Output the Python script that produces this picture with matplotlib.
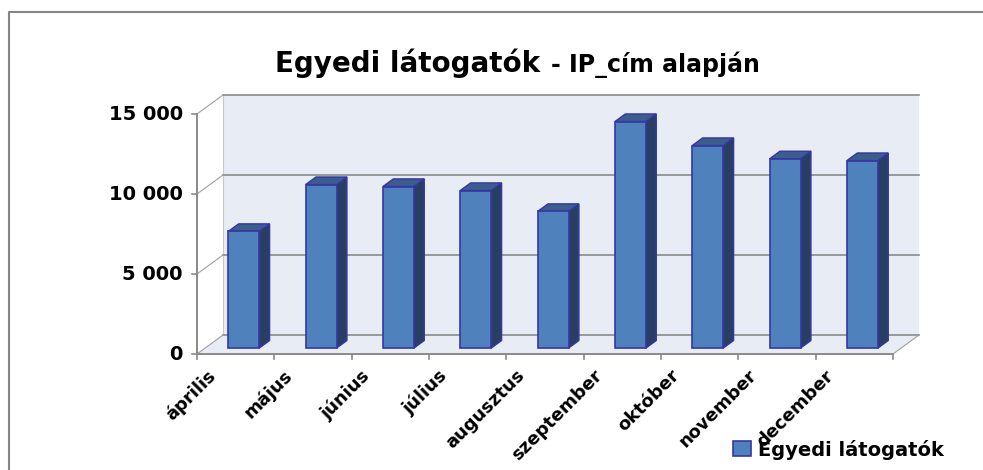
import numpy as np
import matplotlib
matplotlib.use('Agg')
import matplotlib.pyplot as plt
from matplotlib.patches import Polygon
from matplotlib.lines import Line2D

# adatok
honapok = ['április', 'május', 'június', 'július', 'augusztus',
           'szeptember', 'október', 'november', 'december']
latogatok = [7290, 10220, 10100, 9850, 8540, 14160, 12660, 11830, 11720]
y_ticks = [0, 5000, 10000, 15000]
y_labels = ['0', '5 000', '10 000', '15 000']

plt.rcParams['font.family'] = ['DejaVu Sans']
plt.rcParams['font.weight'] = 'bold'

fig = plt.figure(figsize=(9.83, 4.70), dpi=100)
W, H = 983, 470
ax = fig.add_axes([197 / W, (H - 354) / H, (893 - 197) / W, (354 - 114) / H])
n = len(honapok)
ax.set_xlim(0, n)
ax.set_ylim(0, 15000)
ax.axis('off')

# 3D-s eltolás (hátsó fal)
DX = 26 / 77.33
DY = 19 / 16 * 1000
px_y = 1000 / 16   # 1 pixel függőlegesen
px_x = 1 / 77.33

wall_c = '#E8ECF4'
grid_c = '#8A8A8A'

# hátsó fal és padló
ax.add_patch(Polygon([(DX, DY), (n + DX, DY), (n + DX, 15000 + DY), (DX, 15000 + DY)],
                     closed=True, fc=wall_c, ec='none', clip_on=False, zorder=0))
ax.add_patch(Polygon([(0, 0), (n, 0), (n + DX, DY), (DX, DY)],
                     closed=True, fc=wall_c, ec='none', clip_on=False, zorder=0))
ax.plot([DX, DX], [DY, 15000 + DY], color='#C8C8C8', lw=0.8, clip_on=False, zorder=1)

for v in y_ticks:
    ax.plot([DX, n + DX], [v + DY, v + DY], color=grid_c, lw=1.2, clip_on=False, zorder=1)
    ax.plot([0, DX], [v, v + DY], color='#A0A0A0', lw=0.8, clip_on=False, zorder=1)
    ax.plot([-5 * px_x, 0], [v, v], color=grid_c, lw=1.2, clip_on=False, zorder=1)
ax.plot([n, n + DX], [0, DY], color='#A0A0A0', lw=0.8, clip_on=False, zorder=1)

# tengelyek
ax.plot([0, n], [0, 0], color=grid_c, lw=1.4, clip_on=False, zorder=3)
ax.plot([0, 0], [0, 15000], color=grid_c, lw=1.4, clip_on=False, zorder=3)
for i in range(n + 1):
    ax.plot([i, i], [0, -5 * px_y], color=grid_c, lw=1.2, clip_on=False, zorder=3)

# oszlopok
f0 = 0.31
depth = 0.4
bw = 0.4
x_left = np.arange(n) + 0.5 - bw / 2 + f0 * DX
base = f0 * DY
ddx, ddy = depth * DX, depth * DY
edge_c = '#3636A6'
bars = ax.bar(x_left, latogatok, width=bw, bottom=base, align='edge',
              color='#4F81BD', edgecolor=edge_c, linewidth=1.2, zorder=5,
              clip_on=False, label='Egyedi látogatók')
for xl, v in zip(x_left, latogatok):
    xr = xl + bw
    top = base + v
    ax.add_patch(Polygon([(xr, base), (xr + ddx, base + ddy), (xr + ddx, top + ddy), (xr, top)],
                         closed=True, fc='#283F63', ec=edge_c, lw=1.0, clip_on=False, zorder=4))
    ax.add_patch(Polygon([(xl, top), (xr, top), (xr + ddx, top + ddy), (xl + ddx, top + ddy)],
                         closed=True, fc='#3B5E8C', ec=edge_c, lw=1.0, clip_on=False, zorder=4))

# feliratok
for v, lab in zip(y_ticks, y_labels):
    ax.text(-14 * px_x, v, lab, ha='right', va='center', fontsize=14, fontweight='bold')
for i, lab in enumerate(honapok):
    ax.text(i + 0.5 - 23 * px_x, -19 * px_y, lab, rotation=45, rotation_mode='anchor',
            ha='right', va='center', fontsize=13, fontweight='bold')

# cím
fig.text(540 / W, (H - 71.7) / H, 'Egyedi látogatók', ha='right', va='baseline',
         fontsize=20, fontweight='bold')
fig.text(551 / W, (H - 71.7) / H, '- IP_cím alapján', ha='left', va='baseline',
         fontsize=17, fontweight='bold')

# jelmagyarázat
fig.legend(handles=[bars], loc='center left', bbox_to_anchor=(733 / W, (H - 449.5) / H),
           frameon=False, prop={'weight': 'bold', 'size': 14},
           handlelength=0.93, handleheight=0.78, handletextpad=0.35,
           borderpad=0, borderaxespad=0)

# keret
fig.add_artist(Line2D([9 / W, 9 / W, 1], [0, (H - 12) / H, (H - 12) / H],
                      color='#868686', lw=1.5, transform=fig.transFigure))

fig.savefig('out.png', dpi=100)
